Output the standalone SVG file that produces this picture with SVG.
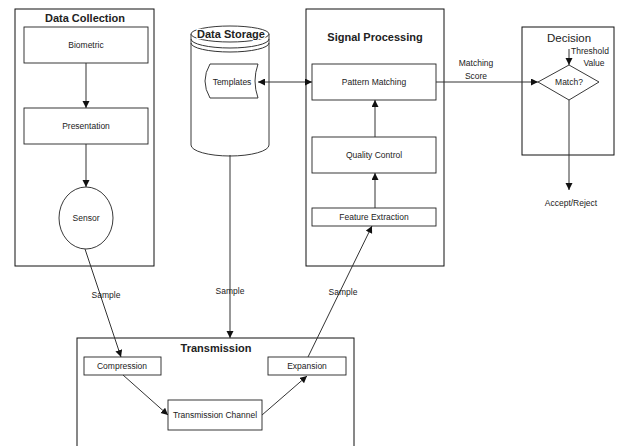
<svg xmlns="http://www.w3.org/2000/svg" width="622" height="446" viewBox="0 0 622 446">
<defs>
<style>
.box{fill:#fff;stroke:#111;stroke-width:1}
.node{fill:#fff;stroke:#222;stroke-width:0.9}
.t{font-family:"Liberation Sans",Arial,sans-serif;font-size:8.5px;fill:#222;text-anchor:middle}
.h{font-family:"Liberation Sans",Arial,sans-serif;font-size:11px;font-weight:bold;fill:#222;text-anchor:middle}
.c{fill:none;stroke:#333;stroke-width:1}
</style>
<marker id="ah" markerWidth="8" markerHeight="8" refX="7" refY="3.5" orient="auto" markerUnits="userSpaceOnUse">
<path d="M0,0 L7,3.5 L0,7 Z" fill="#111"/>
</marker>
<marker id="as" markerWidth="8" markerHeight="8" refX="0" refY="3.5" orient="auto" markerUnits="userSpaceOnUse">
<path d="M7,0 L0,3.5 L7,7 Z" fill="#111"/>
</marker>
</defs>
<rect width="622" height="446" fill="#fff"/>

<g id="data-collection">
<rect class="box" x="15" y="9" width="139" height="257"/>
<text class="h" x="85" y="22">Data Collection</text>
</g>
<g id="biometric"><rect class="node" x="24" y="27" width="124" height="36"/><text class="t" x="86" y="48">Biometric</text></g>
<g id="presentation"><rect class="node" x="24" y="108" width="124" height="36"/><text class="t" x="86" y="129">Presentation</text></g>
<g id="sensor"><ellipse class="node" cx="86" cy="218" rx="27" ry="31"/><text class="t" x="86" y="221">Sensor</text></g>

<g id="data-storage">
<path class="node" d="M191,34 L191,145 A39,11 0 0 0 269,145 L269,34"/>
<path class="c" d="M191,39 A39,9 0 0 0 269,39 M191,43 A39,9 0 0 0 269,43" stroke="#555"/>
<ellipse class="node" cx="230" cy="34" rx="39" ry="8"/>
<text class="h" x="231" y="38" style="stroke:#fff;stroke-width:2.5;paint-order:stroke">Data Storage</text>
</g>
<g id="templates">
<path class="node" d="M210,64 L258,64 Q252,81 258,98 L210,98 Q200,81 210,64 Z"/>
<text class="t" x="232" y="85">Templates</text>
</g>

<g id="signal-processing">
<rect class="box" x="306" y="9" width="138" height="257"/>
<text class="h" x="375" y="41">Signal Processing</text>
</g>
<g id="pattern-matching"><rect class="node" x="312" y="64" width="124" height="36"/><text class="t" x="374" y="85">Pattern Matching</text></g>
<g id="quality-control"><rect class="node" x="312" y="137" width="124" height="36"/><text class="t" x="374" y="158">Quality Control</text></g>
<g id="feature-extraction"><rect class="node" x="312" y="208" width="124" height="18"/><text class="t" x="374" y="220">Feature Extraction</text></g>

<g id="decision">
<rect class="box" x="522" y="27" width="92" height="128"/>
<text x="569" y="42" style="font-family:'Liberation Sans',Arial,sans-serif;font-size:11.5px;fill:#222;text-anchor:middle">Decision</text>
</g>
<g id="match"><path class="node" d="M569,65 L599,82 L569,100 L538,82 Z"/><text class="t" x="569" y="85">Match?</text></g>

<g id="transmission">
<rect class="box" x="77" y="338" width="277" height="120"/>
<text class="h" x="216" y="352">Transmission</text>
</g>
<g id="compression"><rect class="node" x="84" y="357" width="77" height="18"/><text class="t" x="122" y="369">Compression</text></g>
<g id="transmission-channel"><rect class="node" x="168" y="400" width="94" height="30"/><text class="t" x="215" y="418">Transmission Channel</text></g>
<g id="expansion"><rect class="node" x="268" y="357" width="78" height="18"/><text class="t" x="307" y="369">Expansion</text></g>

<g id="connectors">
<line class="c" x1="86" y1="63" x2="86" y2="108" marker-end="url(#ah)"/>
<line class="c" x1="86" y1="144" x2="86" y2="187" marker-end="url(#ah)"/>
<line class="c" x1="85" y1="249" x2="121" y2="357" marker-end="url(#ah)"/>
<line class="c" x1="230" y1="155" x2="230" y2="338" marker-end="url(#ah)"/>
<line class="c" x1="308" y1="357" x2="372" y2="226" marker-end="url(#ah)"/>
<line class="c" x1="258" y1="82" x2="312" y2="82" marker-start="url(#as)" marker-end="url(#ah)"/>
<line class="c" x1="375" y1="137" x2="375" y2="100" marker-end="url(#ah)"/>
<line class="c" x1="375" y1="208" x2="375" y2="173" marker-end="url(#ah)"/>
<line class="c" x1="436" y1="82" x2="538" y2="82" marker-end="url(#ah)"/>
<line class="c" x1="569" y1="49" x2="569" y2="65" marker-end="url(#ah)"/>
<line class="c" x1="569" y1="100" x2="569" y2="190" marker-end="url(#ah)"/>
<line class="c" x1="123" y1="375" x2="168" y2="415" marker-end="url(#ah)"/>
<line class="c" x1="262" y1="415" x2="307" y2="376" marker-end="url(#ah)"/>
<text class="t" x="106" y="298">Sample</text>
<text class="t" x="230" y="294">Sample</text>
<text class="t" x="343" y="295">Sample</text>
<text class="t" x="476" y="66">Matching</text>
<text class="t" x="476" y="79">Score</text>
<text class="t" x="590" y="54">Threshold</text>
<text class="t" x="594" y="66">Value</text>
<text class="t" x="571" y="206">Accept/Reject</text>
</g>
</svg>
